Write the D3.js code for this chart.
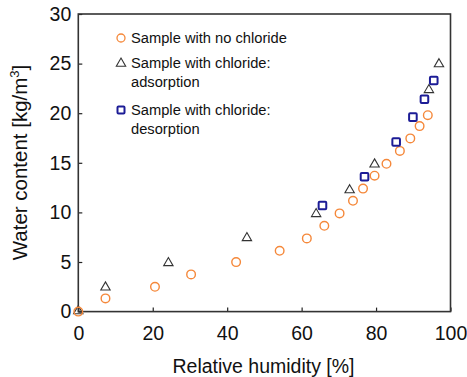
<!DOCTYPE html>
<html><head><meta charset="utf-8">
<script src="https://cdn.jsdelivr.net/npm/d3@7"></script>
<style>body{margin:0;background:#fff;} text{font-family:"Liberation Sans",Arial,sans-serif;}</style>
</head><body>
<svg id="c" width="467" height="377"></svg>
<script>
const xTicks = [0, 20, 40, 60, 80, 100];
const yTicks = [0, 5, 10, 15, 20, 25, 30];
const noChlorideRH = [0, 7.3, 20.6, 30.3, 42.4, 54.1, 61.4, 66.1, 70.2, 73.8, 76.5, 79.6, 82.8, 86.4, 89.2, 91.7, 93.9];
const noChlorideW  = [0, 1.33, 2.5, 3.75, 4.99, 6.13, 7.38, 8.65, 9.9, 11.17, 12.4, 13.7, 14.9, 16.2, 17.46, 18.7, 19.8];
const adsorptionRH = [0, 7.3, 24.2, 45.3, 63.9, 72.9, 79.6, 94.2, 96.9];
const adsorptionW  = [0.1, 2.5, 4.96, 7.48, 9.9, 12.3, 14.9, 22.4, 25.0];
const desorptionRH = [65.6, 76.9, 85.4, 89.9, 93.0, 95.5];
const desorptionW  = [10.7, 13.6, 17.1, 19.6, 21.4, 23.3];
const legendLabels = [["Sample with no chloride"], ["Sample with chloride:", "adsorption"], ["Sample with chloride:", "desorption"]];

const svg = d3.select("#c");
const L = 78.3, R = 450.5, T = 14, B = 311.6;
const x = d3.scaleLinear().domain([0, 100]).range([L, R]);
const y = d3.scaleLinear().domain([0, 30]).range([B, T]);

const orange = "#f5883a", dark = "#333", navy = "#1c1c96";
const FONT = "Liberation Sans, Arial, sans-serif";

// ticks (inward)
const xAxis = d3.axisBottom(x).tickValues(xTicks).tickSize(-4).tickPadding(14.5).tickFormat(d3.format("d"));
const gx = svg.append("g").attr("transform", `translate(0,${B})`).call(xAxis);
gx.select(".domain").remove();
gx.selectAll("line").attr("stroke", "#222").attr("stroke-width", 1.2);
gx.selectAll("text").attr("font-size", 19.5).attr("fill", "#111").attr("font-family", FONT);

const yAxis = d3.axisLeft(y).tickValues(yTicks).tickSize(-4).tickPadding(7);
const gy = svg.append("g").attr("transform", `translate(${L},0)`).call(yAxis);
gy.select(".domain").remove();
gy.selectAll("line").attr("stroke", "#222").attr("stroke-width", 1.2);
gy.selectAll("text").attr("font-size", 19.5).attr("fill", "#111").attr("font-family", FONT);

// frame
svg.append("rect").attr("x", L).attr("y", T).attr("width", R - L).attr("height", B - T)
  .attr("fill", "none").attr("stroke", "#333").attr("stroke-width", 1.6);

// axis titles
svg.append("text").attr("x", 263.5).attr("y", 373).attr("text-anchor", "middle")
  .attr("font-size", 19.5).attr("fill", "#111").text("Relative humidity [%]");
const yt = svg.append("text").attr("transform", `translate(27,162.5) rotate(-90)`)
  .attr("text-anchor", "middle").attr("font-size", 20.5).attr("fill", "#111");
yt.append("tspan").text("Water content [kg/m");
yt.append("tspan").attr("font-size", 13).attr("dy", -8).text("3");
yt.append("tspan").attr("dy", 8).text("]");

// markers
const triPath = d3.symbol().type(d3.symbolTriangle).size(38);

svg.append("g").selectAll("path").data(adsorptionRH.map((r, i) => [r, adsorptionW[i]])).join("path")
  .attr("d", triPath).attr("transform", d => `translate(${x(d[0])},${y(d[1]) + 0.5})`)
  .attr("fill", "none").attr("stroke", dark).attr("stroke-width", 1.1);

svg.append("g").selectAll("circle").data(noChlorideRH.map((r, i) => [r, noChlorideW[i]])).join("circle")
  .attr("cx", d => x(d[0])).attr("cy", d => y(d[1])).attr("r", 4.3)
  .attr("fill", "none").attr("stroke", orange).attr("stroke-width", 1.4);

svg.append("g").selectAll("rect").data(desorptionRH.map((r, i) => [r, desorptionW[i]])).join("rect")
  .attr("x", d => x(d[0]) - 3.8).attr("y", d => y(d[1]) - 3.8).attr("width", 7.6).attr("height", 7.6).attr("rx", 1)
  .attr("fill", "none").attr("stroke", navy).attr("stroke-width", 2);

// legend
const lgX = 121, lgTextX = 131;
const lgY = [38, 63, 110];
svg.append("circle").attr("cx", lgX).attr("cy", lgY[0]).attr("r", 4).attr("fill", "none").attr("stroke", orange).attr("stroke-width", 1.3);
svg.append("path").attr("d", triPath).attr("transform", `translate(${lgX},${lgY[1] + 0.5})`).attr("fill", "none").attr("stroke", dark).attr("stroke-width", 1.1);
svg.append("rect").attr("x", lgX - 3.5).attr("y", lgY[2] - 3.5).attr("width", 7).attr("height", 7).attr("rx", 1).attr("fill", "none").attr("stroke", navy).attr("stroke-width", 2);
legendLabels.forEach((lines, i) => {
  lines.forEach((t, j) => {
    svg.append("text").attr("x", lgTextX).attr("y", lgY[i] + 5.3 + j * 18.5).attr("font-size", 14.7).attr("fill", "#111").text(t);
  });
});
</script>
</body></html>
